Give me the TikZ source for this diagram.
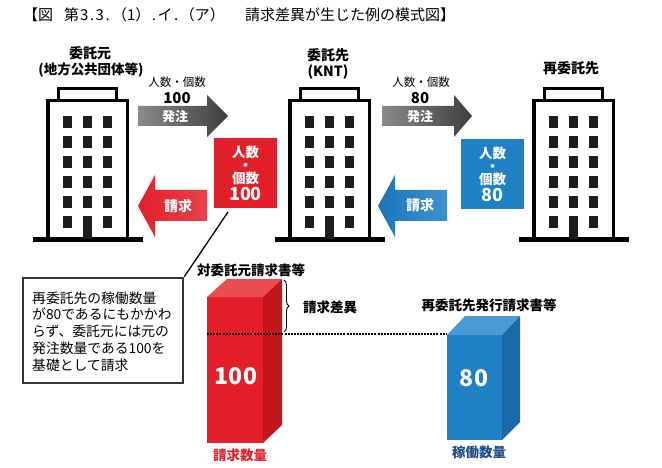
\documentclass[tikz,border=0pt]{standalone}
\usepackage{fontspec}
\setmainfont{Noto Sans CJK JP}
\usetikzlibrary{decorations.pathreplacing}
\definecolor{redA}{HTML}{E3202A}
\definecolor{redTop}{HTML}{EC4C50}
\definecolor{redSide}{HTML}{C4141C}
\definecolor{blueA}{HTML}{1F80C4}
\definecolor{blueTop}{HTML}{4A9AD4}
\definecolor{blueSide}{HTML}{196AA6}
\definecolor{blueL}{HTML}{3C92D0}
\definecolor{blueD}{HTML}{1A74B8}
\definecolor{grayL}{HTML}{8A8A8A}
\definecolor{grayD}{HTML}{3E3E3E}
\definecolor{navyT}{HTML}{1D4E86}
\definecolor{winc}{HTML}{1C1C1C}
\definecolor{boxline}{HTML}{363636}
\tikzset{
  reg/.style={inner sep=0pt, font=\fontsize{#1}{#1}\selectfont},
  bld/.style={inner sep=0pt, font=\bfseries\fontsize{#1}{#1}\selectfont},
  wtxt/.style={inner sep=0pt, text=white, font=\bfseries\fontsize{#1}{#1}\selectfont},
  qbox/.style={inner sep=0pt, minimum width=63pt, minimum height=70pt, text=white, align=center,
    font=\bfseries\fontsize{13.5}{13}\selectfont},
  building/.pic={
    \draw[line width=3.5pt, fill=white] (-29,88.75) rectangle (29,100.75);
    \draw[line width=3.5pt, fill=white] (-39.75,100.75) rectangle (39.75,239);
    \draw[line width=4.5pt] (-55,239.5) -- (55,239.5);
    \foreach \cx in {-20,0,20}{\foreach \r in {0,...,4}{\fill[winc] (\cx-4.5,116+20*\r) rectangle +(9,12);}}
    \fill[winc] (-24.5,216) rectangle +(9,12);
    \fill[winc] (15.5,216) rectangle +(9,12);
    \fill[winc] (-4.5,216) rectangle (4.5,239);
  }
}
\begin{document}
\begin{tikzpicture}[x=1pt,y=-1pt]
\useasboundingbox (0,0) rectangle (662,468);
% title
\node[reg=15, anchor=west] (t1) at (23,15) {【図};
\node[reg=15, anchor=west] (t1b) at (64,15) {第\kern1pt 3\kern1.5pt.\kern1.5pt 3\kern1.5pt.};
\node[reg=15, anchor=east] (t1c) at (225,15) {（1）\kern1.5pt.\kern1.5pt イ\kern1.5pt.\kern1.5pt（ア）};
\node[reg=15, anchor=west] (t2) at (245,15) {請求差異が生じた例の模式図】};
% labels above buildings
\node[bld=14] (l1a) at (90,53) {委託元};
\node[bld=13.5] (l1b) at (91,70) {(地方公共団体等)};
\node[bld=14] (l2a) at (328,55) {委託先};
\node[bld=14] (l2b) at (328,72) {(KNT)};
\node[bld=14] (l3a) at (571,68) {再委託先};
% buildings
\pic at (87.5,0) {building};
\pic at (329.5,0) {building};
\pic at (573.5,0) {building};
% gray order arrows
\shade[left color=grayL, right color=grayD] (138,106) -- (207,106) -- (207,95) -- (228,116) -- (207,137) -- (207,126) -- (138,126) -- cycle;
\shade[left color=grayL, right color=grayD] (382,106) -- (454,106) -- (454,95) -- (472,116) -- (454,137) -- (454,126) -- (382,126) -- cycle;
\node[reg=11.5] (n1a) at (177,82) {人数・個数};
\node[bld=15] (n1b) at (177,98) {100};
\node[wtxt=13] (n1c) at (175,117) {発注};
\node[reg=11.5] (n2a) at (421,82) {人数・個数};
\node[bld=15] (n2b) at (420,98) {80};
\node[wtxt=13] (n2c) at (420,117) {発注};
% billing arrows
\shade[left color=redA, right color=redA!85!white] (207,190) -- (155,190) -- (155,175) -- (138,206) -- (155,237) -- (155,221) -- (207,221) -- cycle;
\node[wtxt=14] (b1) at (178,206) {請求};
\shade[left color=blueD, right color=blueL] (447,190) -- (395,190) -- (395,175) -- (378,206) -- (395,237) -- (395,221) -- (447,221) -- cycle;
\node[wtxt=14] (b2) at (420,205) {請求};
% quantity boxes
\node[qbox, fill=redA] (rq) at (245.5,173) {人数\\・\\個数\\[1.5pt]\fontsize{18}{18}\selectfont 100};
\node[qbox, fill=blueA] (bq) at (492.5,174.5) {人数\\・\\個数\\[1.5pt]\fontsize{18}{18}\selectfont 80};
% callout
\node[draw=boxline, line width=2.6pt, fill=white, minimum width=160pt, minimum height=105pt, inner sep=0pt] (co) at (103,330.5) {};
\node[reg=13.8, align=left, anchor=west, font=\fontsize{13.8}{16.8}\selectfont] (cot) at (32,331.5) {再委託先の稼働数量\\が80であるにもかかわ\\らず、委託元には元の\\発注数量である100を\\基礎として請求};
\coordinate (ptr) at (228,212);
\draw[line width=1.3pt] (co.north east) -- (ptr);
% red bar
\fill[redA] (207,297) rectangle (263,443);
\fill[redTop] (207,297) -- (227,279) -- (282,279) -- (263,297) -- cycle;
\fill[redSide] (263,297) -- (282,279) -- (282,425) -- (263,443) -- cycle;
\node[wtxt=23] (v1) at (236,376) {100};
\node[bld=13.5] (h1) at (251,270) {対委託元請求書等};
\node[bld=13.5, text=redA] (f1) at (240,455) {請求数量};
% blue bar
\fill[blueA] (447,335) rectangle (502,440);
\fill[blueTop] (447,335) -- (465,316) -- (520,316) -- (502,335) -- cycle;
\fill[blueSide] (502,335) -- (520,316) -- (520,422) -- (502,440) -- cycle;
\node[wtxt=23] (v2) at (474,378) {80};
\node[bld=13.5] (h2) at (489,305) {再委託先発行請求書等};
\node[bld=13.5, text=navyT] (f2) at (479,452) {稼働数量};
% difference
\coordinate (dl1) at (207,334);
\coordinate (dl2) at (447,334);
\draw[line width=2.8pt, color=black, dash pattern=on 2pt off 1.1pt] (dl1) -- (dl2);
\coordinate (br1) at (284,280);
\coordinate (br2) at (284,332);
\draw[decorate, decoration={brace, amplitude=5pt}, line width=0.9pt] (br1) -- (br2);
\node[bld=13.5, anchor=west] (df) at (303,307) {請求差異};
\end{tikzpicture}
\end{document}
